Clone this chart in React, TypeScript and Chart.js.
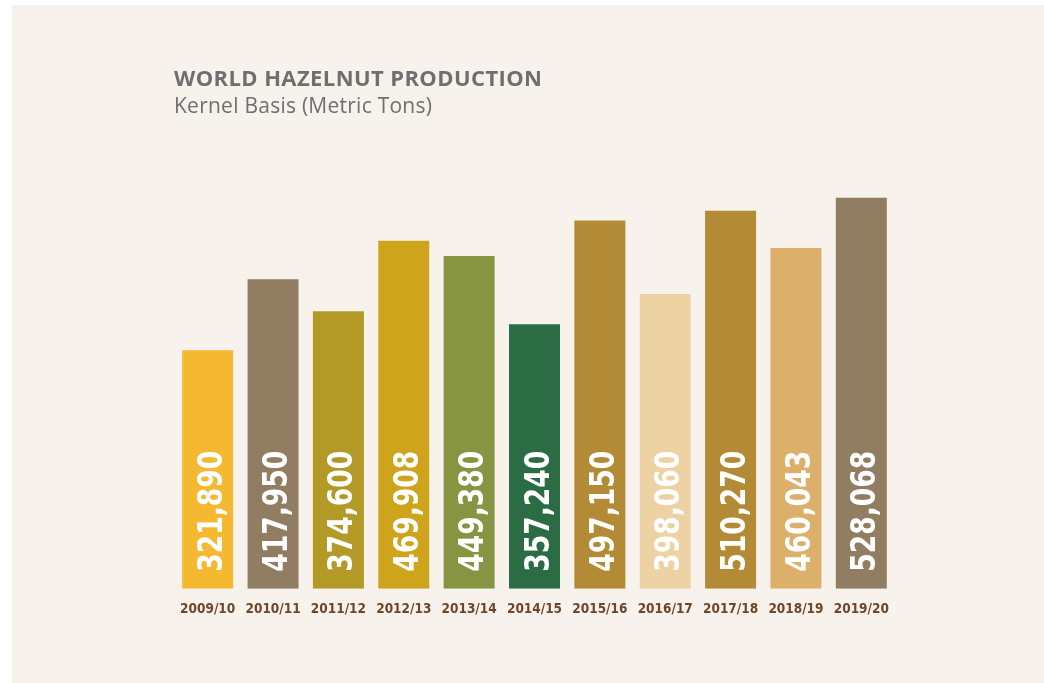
import React, { useEffect, useRef } from "react";
import { Chart, registerables } from "chart.js";

Chart.register(...registerables);

const seasons = [
  "2009/10", "2010/11", "2011/12", "2012/13", "2013/14", "2014/15",
  "2015/16", "2016/17", "2017/18", "2018/19", "2019/20",
];
const production = [
  321890, 417950, 374600, 469908, 449380, 357240,
  497150, 398060, 510270, 460043, 528068,
];
const barColors = [
  "#F4B931", "#917D62", "#B39A27", "#CDA41B", "#879441", "#2B6C44",
  "#B38B36", "#EDD3A4", "#B38B36", "#DCB06A", "#917D62",
];
const titleText = "WORLD HAZELNUT PRODUCTION";
const subtitleText = "Kernel Basis (Metric Tons)";

const valueLabels = {
  id: "valueLabels",
  afterDatasetsDraw(chart: any) {
    const ctx = chart.ctx;
    const meta = chart.getDatasetMeta(0);
    const data = chart.data.datasets[0].data as number[];
    ctx.save();
    ctx.font = "bold 34px 'DejaVu Sans'";
    ctx.fillStyle = "#FFFFFF";
    ctx.textAlign = "left";
    ctx.textBaseline = "alphabetic";
    meta.data.forEach((bar: any, i: number) => {
      const txt = data[i].toLocaleString("en-US");
      const w = ctx.measureText(txt).width;
      ctx.save();
      ctx.translate(bar.x + 14, bar.base - 17);
      ctx.rotate(-Math.PI / 2);
      ctx.fillText(txt, 0, 0, Math.min(w, 121));
      ctx.restore();
    });
    ctx.restore();
  },
};

export default function App() {
  const ref = useRef<HTMLCanvasElement>(null);
  useEffect(() => {
    if (!ref.current) return;
    const chart = new Chart(ref.current, {
      type: "bar",
      data: {
        labels: seasons,
        datasets: [
          {
            data: production,
            backgroundColor: barColors,
            borderWidth: 0,
            categoryPercentage: 1,
            barPercentage: 0.78,
          },
        ],
      },
      options: {
        animation: false,
        responsive: false,
        devicePixelRatio: 1,
        layout: { padding: { left: 163, right: 150, top: 169, bottom: 52 } },
        plugins: {
          legend: { display: false },
          tooltip: { enabled: false },
        },
        scales: {
          y: { display: false, min: 0, max: 560000 },
          x: {
            grid: { display: false, drawTicks: false },
            border: { display: false },
            ticks: {
              padding: 13,
              color: "#6E4628",
              font: { family: "'DejaVu Sans Condensed'", weight: "bold", size: 13.5 },
            },
          },
        },
      },
      plugins: [valueLabels],
    });
    return () => chart.destroy();
  }, []);

  return (
    <div style={{ position: "absolute", left: 0, top: 0, width: 1044, height: 683, background: "#FFFFFF", overflow: "hidden" }}>
      <div style={{ position: "absolute", left: 12, top: 5, width: 1032, height: 678, background: "#F7F2EC" }}>
        <canvas ref={ref} width={1032} height={678} style={{ position: "absolute", left: 0, top: 0, width: 1032, height: 678 }} />
        <div style={{ position: "absolute", left: 162, top: 60, fontFamily: "'Open Sans'", fontWeight: 700, fontSize: 22, letterSpacing: "0.4px", lineHeight: "24px", color: "#6F6F6F", whiteSpace: "nowrap" }}>
          {titleText}
        </div>
        <div style={{ position: "absolute", left: 162, top: 88, fontFamily: "'Open Sans'", fontWeight: 400, fontSize: 21, letterSpacing: "0.25px", lineHeight: "24px", color: "#6F6F6F", whiteSpace: "nowrap" }}>
          {subtitleText}
        </div>
      </div>
    </div>
  );
}
